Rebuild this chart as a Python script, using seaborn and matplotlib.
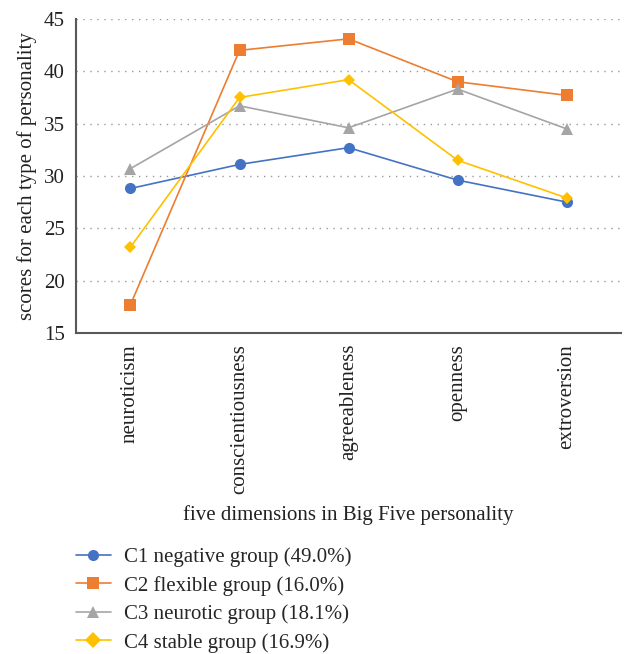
import pandas as pd
import matplotlib
matplotlib.use("Agg")
import matplotlib.pyplot as plt
import seaborn as sns

# values
dimensions = ["neuroticism", "conscientiousness", "agreeableness", "openness", "extroversion"]
groups = ["C1 negative group (49.0%)", "C2 flexible group (16.0%)",
          "C3 neurotic group (18.1%)", "C4 stable group (16.9%)"]
c1_scores = [28.8, 31.1, 32.7, 29.6, 27.5]
c2_scores = [17.7, 42.0, 43.1, 39.0, 37.7]
c3_scores = [30.7, 36.7, 34.6, 38.3, 34.5]
c4_scores = [23.2, 37.5, 39.2, 31.5, 27.9]

colors = ["#4472C4", "#ED7D31", "#A5A5A5", "#FFC000"]
marks = ["o", "s", "^", "D"]

# long-form table for seaborn
rows = []
for g, vals in zip(groups, [c1_scores, c2_scores, c3_scores, c4_scores]):
    for d, v in zip(dimensions, vals):
        rows.append({"dimension": d, "score": v, "group": g})
data = pd.DataFrame(rows)

sns.set_style("white")
plt.rcParams["font.family"] = ["Liberation Serif", "DejaVu Serif"]

fig = plt.figure(figsize=(6.28, 6.54), dpi=100)
ax = fig.add_axes([0.121, 0.491, 0.868, 0.480])

sns.lineplot(data=data, x="dimension", y="score", hue="group", style="group",
             palette=dict(zip(groups, colors)), markers=dict(zip(groups, marks)),
             dashes=False, linewidth=1.2, markersize=8, markeredgewidth=0,
             sort=False, ax=ax)

for line, m in zip(ax.get_lines(), marks):
    if m == "D":
        line.set_markersize(6.5)

ax.set_ylim(15, 45)
ax.set_yticks(range(15, 46, 5))
ax.set_xlim(-0.5, 4.5)
ax.set_xticks(range(5))
ax.set_xticklabels(dimensions, rotation=90, fontsize=15, color="#222222")
ax.set_xticks([i - 0.5 for i in range(6)], minor=True)
ax.tick_params(axis="x", which="major", length=0, pad=8)
ax.tick_params(axis="x", which="minor", length=6, width=1, color="#595959", direction="out")
ax.tick_params(axis="y", length=3, width=1, color="#595959", labelsize=15, labelcolor="#222222", pad=5)

ax.yaxis.grid(True, linestyle=(0, (1, 4)), color="#999999", linewidth=1)
ax.set_axisbelow(True)
for side in ["top", "right"]:
    ax.spines[side].set_visible(False)
for side in ["left", "bottom"]:
    ax.spines[side].set_color("#595959")
    ax.spines[side].set_linewidth(1.5)

ax.set_xlabel("five dimensions in Big Five personality", fontsize=15, color="#222222", labelpad=8)
ax.set_ylabel("scores for each type of personality", fontsize=15, color="#222222", labelpad=5)

handles, labels = ax.get_legend_handles_labels()
ax.legend_.remove()
fig.legend(handles, labels, loc="upper left", bbox_to_anchor=(0.108, 0.176),
           frameon=False, fontsize=15, handlelength=1.65, labelspacing=0.42,
           handletextpad=0.67, borderaxespad=0)

fig.savefig("out.png", dpi=100)
